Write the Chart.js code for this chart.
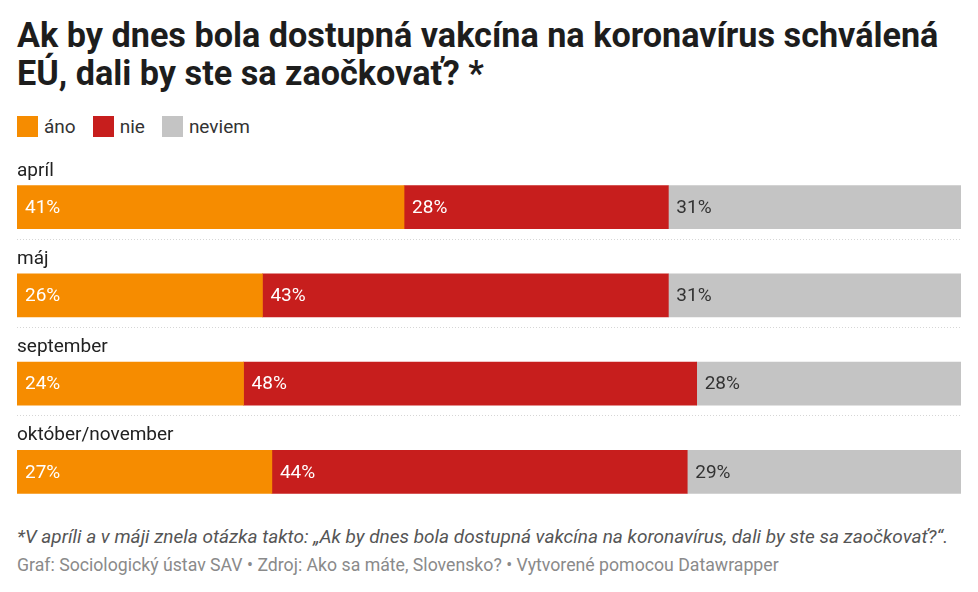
<!DOCTYPE html>
<html>
<head>
<meta charset="utf-8">
<script src="https://cdn.jsdelivr.net/npm/chart.js@4.4.0/dist/chart.umd.min.js"></script>
<style>
  html, body { margin: 0; padding: 0; background: #fff; }
  body { width: 978px; height: 592px; position: relative; overflow: hidden; font-family: Roboto, sans-serif; }
  .title { position: absolute; left: 17px; top: 16px; font-size: 34.2px; font-weight: 700; line-height: 38px; color: #1d1d1d; white-space: nowrap; }
  .legend { position: absolute; left: 17px; top: 115px; height: 23px; display: flex; align-items: center; font-size: 19px; color: #333; }
  .legend span.item { display: flex; align-items: center; margin-right: 17px; }
  .legend span.box { width: 21px; height: 21px; margin-right: 6px; display: inline-block; }
  .wrap { position: absolute; left: 17px; top: 153px; width: 944px; height: 363px; }
  .note { position: absolute; left: 17px; top: 526px; font-size: 19px; line-height: 22px; font-style: italic; color: #555; white-space: nowrap; }
  .credit { position: absolute; left: 17px; top: 555px; font-size: 17.7px; line-height: 20px; color: #8a8a8a; white-space: nowrap; }
</style>
</head>
<body>
<div class="title">Ak by dnes bola dostupná vakcína na koronavírus schválená<br>EÚ, dali by ste sa zaočkovať? *</div>
<div class="legend" id="legend"></div>
<div class="wrap"><canvas id="chart"></canvas></div>
<div class="note">*V apríli a v máji znela otázka takto: „Ak by dnes bola dostupná vakcína na koronavírus, dali by ste sa zaočkovať?“.</div>
<div class="credit">Graf: Sociologický ústav SAV • Zdroj: Ako sa máte, Slovensko? • Vytvorené pomocou Datawrapper</div>
<script>
// survey waves
const categories = ['apríl', 'máj', 'september', 'október/november'];
const seriesNames = ['áno', 'nie', 'neviem'];
const ano = [41, 26, 24, 27];
const nie = [28, 43, 48, 44];
const neviem = [31, 31, 28, 29];

const colors = ['#f68c00', '#c71e1d', '#c4c4c4'];
const labelColors = ['#ffffff', '#ffffff', '#333333'];

// legend row
const legendEl = document.getElementById('legend');
seriesNames.forEach((name, i) => {
  const item = document.createElement('span');
  item.className = 'item';
  item.innerHTML = '<span class="box" style="background:' + colors[i] + '"></span>' + name;
  legendEl.appendChild(item);
});

// row labels above bars + dotted separators
const rowLabels = {
  id: 'rowLabels',
  afterDatasetsDraw(chart) {
    const ctx = chart.ctx;
    const area = chart.chartArea;
    const meta = chart.getDatasetMeta(0);
    ctx.save();
    meta.data.forEach((bar, i) => {
      const top = bar.y - bar.height / 2;
      const bottom = bar.y + bar.height / 2;
      ctx.fillStyle = '#222';
      ctx.font = '19px Roboto, sans-serif';
      ctx.textAlign = 'left';
      ctx.textBaseline = 'alphabetic';
      ctx.fillText(categories[i], area.left, top - 10);
      if (i < meta.data.length - 1) {
        ctx.strokeStyle = '#d6d6d6';
        ctx.lineWidth = 1;
        ctx.setLineDash([1, 2]);
        ctx.beginPath();
        ctx.moveTo(area.left, Math.round(bottom + 10) + 0.5);
        ctx.lineTo(area.right, Math.round(bottom + 10) + 0.5);
        ctx.stroke();
        ctx.setLineDash([]);
      }
    });
    ctx.restore();
  }
};

// percentage labels inside segments
const valueLabels = {
  id: 'valueLabels',
  afterDatasetsDraw(chart) {
    const ctx = chart.ctx;
    ctx.save();
    ctx.font = '19px Roboto, sans-serif';
    ctx.textAlign = 'left';
    ctx.textBaseline = 'middle';
    chart.data.datasets.forEach((ds, d) => {
      chart.getDatasetMeta(d).data.forEach((bar, i) => {
        ctx.fillStyle = labelColors[d];
        ctx.fillText(ds.data[i] + '%', Math.min(bar.base, bar.x) + 8, bar.y + 1);
      });
    });
    ctx.restore();
  }
};

new Chart(document.getElementById('chart'), {
  type: 'bar',
  data: {
    labels: categories,
    datasets: [
      { label: seriesNames[0], data: ano, backgroundColor: colors[0] },
      { label: seriesNames[1], data: nie, backgroundColor: colors[1] },
      { label: seriesNames[2], data: neviem, backgroundColor: colors[2] }
    ]
  },
  options: {
    indexAxis: 'y',
    responsive: true,
    maintainAspectRatio: false,
    animation: false,
    layout: { padding: { left: 0, right: 0, top: 10, bottom: 0 } },
    datasets: { bar: { barThickness: 43, borderWidth: 0 } },
    plugins: {
      legend: { display: false },
      tooltip: { enabled: false }
    },
    scales: {
      x: { stacked: true, min: 0, max: 100, display: false },
      y: { stacked: true, display: false, grid: { display: false } }
    }
  },
  plugins: [rowLabels, valueLabels]
});
</script>
</body>
</html>
